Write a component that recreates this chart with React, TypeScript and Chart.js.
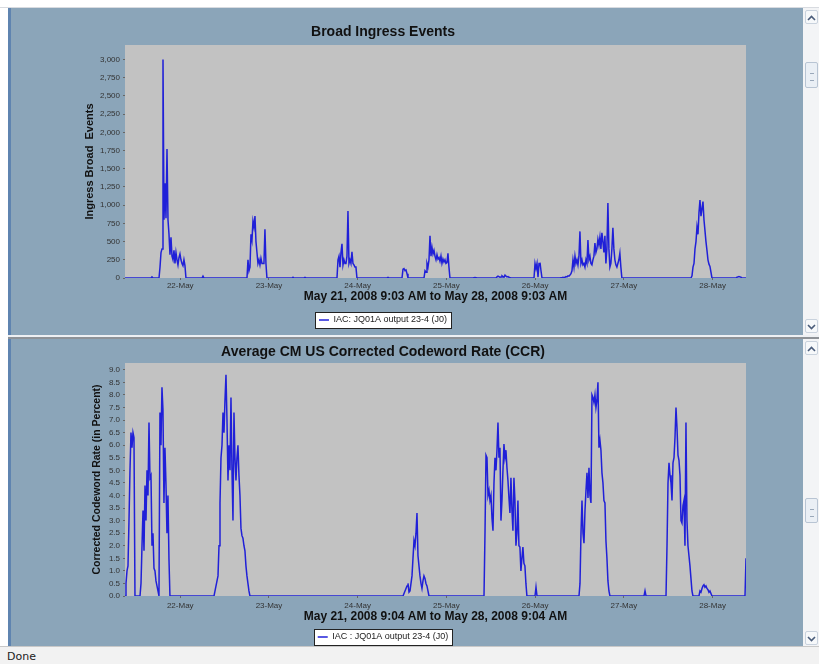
import React, { useEffect, useRef } from 'react';
import { Chart, registerables } from 'chart.js';

Chart.register(...registerables);

// ---------- DATA ----------
const RANGE_HOURS = 168; // May 21 9:03 AM -> May 28 9:03 AM
const SAMPLE_STEP_H = 0.27; // hours between samples (~16 min)

const dayTickHours = [14.95, 38.95, 62.95, 86.95, 110.95, 134.95, 158.95];
const dayTickLabels = ['22-May', '23-May', '24-May', '25-May', '26-May', '27-May', '28-May'];

const ingressYTicks = [0, 250, 500, 750, 1000, 1250, 1500, 1750, 2000, 2250, 2500, 2750, 3000];
const ingressYTickLabels = ['0', '250', '500', '750', '1,000', '1,250', '1,500', '1,750', '2,000', '2,250', '2,500', '2,750', '3,000'];
const ccrYTicks = [0, 0.5, 1, 1.5, 2, 2.5, 3, 3.5, 4, 4.5, 5, 5.5, 6, 6.5, 7, 7.5, 8, 8.5, 9];
const ccrYTickLabels = ['0.0', '0.5', '1.0', '1.5', '2.0', '2.5', '3.0', '3.5', '4.0', '4.5', '5.0', '5.5', '6.0', '6.5', '7.0', '7.5', '8.0', '8.5', '9.0'];

const ingressTitle = 'Broad Ingress Events';
const ingressXTitle = 'May 21, 2008 9:03 AM to May 28, 2008 9:03 AM';
const ingressYTitle = 'Ingress Broad  Events';
const ingressLegend = 'IAC: JQ01A output 23-4 (J0)';

const ccrTitle = 'Average CM US Corrected Codeword Rate (CCR)';
const ccrXTitle = 'May 21, 2008 9:04 AM to May 28, 2008 9:04 AM';
const ccrYTitle = 'Corrected Codeword Rate (in Percent)';
const ccrLegend = 'IAC : JQ01A output 23-4 (J0)';

// Broad ingress events: burst start hours and sample values
const ingressStarts = [7.03, 9.2, 20.83, 33.0, 45.18, 48.42, 57.35, 70.88, 74.94, 80.89, 94.14, 100.37, 110.65, 117.68, 153.12, 165.29];
const ingress01 = [0, 15, 0];
const ingress02 = [0, 150, 350, 400, 3000, 800, 1300, 820, 1770, 800, 600, 320, 560, 300, 250, 380, 200, 350, 250, 180, 280, 330, 250, 200, 170, 250, 170, 0];
const ingress03 = [0, 25, 0];
const ingress04 = [0, 250, 100, 150, 600, 520, 780, 700, 850, 500, 350, 200, 250, 180, 270, 200, 200, 200, 670, 200, 0];
const ingress05 = [0, 10, 0];
const ingress06 = [0, 8, 0];
const ingress07 = [0, 250, 300, 150, 350, 470, 180, 250, 200, 200, 300, 920, 200, 250, 200, 360, 200, 180, 150, 150, 0];
const ingress08 = [0, 8, 0];
const ingress09 = [0, 120, 130, 100, 110, 60, 0];
const ingress10 = [0, 100, 80, 200, 150, 250, 580, 300, 420, 330, 380, 300, 250, 320, 260, 280, 230, 300, 200, 260, 220, 250, 200, 210, 340, 150, 0];
const ingress11 = [0, 5, 8, 5, 0];
const ingress12 = [0, 15, 25, 20, 10, 15, 30, 20, 10, 40, 25, 15, 20, 10, 5, 0];
const ingress13 = [0, 200, 130, 200, 10, 200, 210, 100, 0];
const ingress14 = [0, 5, 5, 10, 5, 10, 20, 15, 30, 25, 40, 60, 100, 250, 150, 300, 200, 250, 180, 300, 640, 200, 250, 180, 200, 150, 250, 200, 520, 250, 300, 200, 180, 250, 300, 480, 350, 400, 530, 450, 560, 400, 620, 500, 350, 580, 200, 400, 1030, 400, 150, 200, 400, 690, 400, 250, 180, 150, 200, 250, 340, 150, 0];
const ingress15 = [0, 30, 150, 200, 400, 500, 700, 600, 900, 1070, 850, 950, 1050, 800, 650, 500, 380, 250, 190, 160, 80, 0];
const ingress16 = [0, 10, 15, 20, 15, 10, 0];
const ingressBursts = [ingress01, ingress02, ingress03, ingress04, ingress05, ingress06, ingress07, ingress08, ingress09, ingress10, ingress11, ingress12, ingress13, ingress14, ingress15, ingress16];

// Corrected codeword rate (%): burst start hours and sample values
const ccrStarts = [0, 4.06, 24.08, 75.21, 97.12, 110.92, 122.82, 140.41, 146.36, 155.28, 167.73];
const ccr01 = [0, 0.5, 1.0, 1.2, 3.0, 5.0, 6.5, 5.9, 6.5, 6.3, 0];
const ccr02 = [0, 0.5, 2.0, 3.4, 1.8, 4.4, 3.0, 5.0, 4.0, 6.9, 4.7, 4.8, 2.0, 2.5, 1.1, 1.0, 0.6, 0.4, 0.2, 0, 7.3, 6.0, 8.3, 7.4, 3.7, 5.9, 4.5, 2.5, 4.0, 1.5, 0];
const ccr03 = [0, 0.2, 0.4, 0.6, 0.8, 2.0, 3.7, 5.5, 6.0, 7.3, 6.5, 7.8, 8.8, 7.0, 4.6, 6.0, 5.0, 7.9, 5.0, 3.0, 7.3, 5.5, 4.6, 5.5, 6.0, 4.8, 4.0, 2.7, 2.4, 2.3, 2.0, 1.8, 1.2, 0.8, 0.5, 0.2, 0];
const ccr04 = [0, 0.1, 0.2, 0.3, 0.4, 0.5, 0.15, 0.2, 0.5, 0.8, 1.5, 2.2, 2.0, 2.5, 3.3, 1.6, 1.2, 0.8, 0.5, 0.3, 0.6, 0.8, 0.7, 0.5, 0.4, 0.2, 0];
const ccr05 = [0, 2.5, 5.6, 5.5, 4.0, 4.2, 3.8, 4.0, 3.1, 2.6, 4.5, 5.5, 5.0, 5.8, 6.9, 5.5, 5.9, 3.0, 3.8, 5.0, 6.05, 5.5, 5.8, 5.1, 4.6, 3.9, 3.3, 4.7, 3.4, 2.6, 4.7, 3.8, 2.0, 2.5, 3.8, 2.0, 1.95, 1.0, 1.5, 1.95, 1.3, 1.2, 0.5, 0];
const ccr06 = [0, 0.35, 0];
const ccr07 = [0, 0.5, 2.5, 3.8, 2.5, 2.1, 3.4, 4.2, 4.9, 3.9, 5.1, 4.0, 3.7, 8.0, 7.9, 7.7, 8.0, 7.5, 7.8, 8.5, 5.9, 6.2, 5.8, 4.9, 4.5, 3.8, 3.7, 2.2, 1.5, 0.6, 0.2, 0];
const ccr08 = [0, 0.2, 0];
const ccr09 = [0, 2.0, 4.5, 5.3, 4.8, 4.5, 3.8, 5.3, 5.5, 6.3, 7.5, 6.7, 5.6, 5.4, 4.8, 3.0, 2.9, 3.6, 3.8, 2.0, 6.9, 3.0, 2.0, 1.6, 1.2, 0.7, 0.2, 0];
const ccr10 = [0, 0.2, 0.15, 0.3, 0.4, 0.45, 0.35, 0.4, 0.3, 0.25, 0.15, 0.2, 0.1, 0];
const ccr11 = [0, 1.5];
const ccrBursts = [ccr01, ccr02, ccr03, ccr04, ccr05, ccr06, ccr07, ccr08, ccr09, ccr10, ccr11];

// ---------- STYLE ----------
const FONT = "'Liberation Sans', Arial, Helvetica, sans-serif";
const PANEL_BG = '#8ba5b9';
const PLOT_BG = '#c2c2c2';
const LINE_COLOR = '#2020d8';

function buildPoints(starts: number[], bursts: number[][]) {
  const pts: { x: number; y: number }[] = [];
  if (starts[0] > 0) pts.push({ x: 0, y: 0 });
  bursts.forEach((vals, i) => {
    vals.forEach((v, j) => pts.push({ x: +(starts[i] + j * SAMPLE_STEP_H).toFixed(3), y: v }));
  });
  const last = pts[pts.length - 1];
  if (last.x < RANGE_HOURS) pts.push({ x: RANGE_HOURS, y: 0 });
  return pts;
}

const plotBgAndLegendBox = {
  id: 'plotBgAndLegendBox',
  beforeDraw(chart: any) {
    const ctx = chart.ctx;
    const { left, top, right, bottom } = chart.chartArea;
    ctx.save();
    ctx.fillStyle = PLOT_BG;
    ctx.fillRect(left, top, right - left, bottom - top);
    const lg = chart.legend;
    if (lg && lg.legendHitBoxes && lg.legendHitBoxes.length) {
      const hb = lg.legendHitBoxes[0];
      const cy = hb.top + hb.height / 2;
      const x0 = Math.round(hb.left - 4) + 0.5;
      const x1 = Math.round(hb.left + hb.width + 4) + 0.5;
      const y0 = Math.round(cy - 8) + 0.5;
      const y1 = Math.round(cy + 8) + 0.5;
      ctx.fillStyle = '#ffffff';
      ctx.fillRect(x0, y0, x1 - x0, y1 - y0);
      ctx.strokeStyle = '#222';
      ctx.lineWidth = 1;
      ctx.strokeRect(x0, y0, x1 - x0, y1 - y0);
    }
    ctx.restore();
  },
};

type Cfg = {
  left: number;
  top: number;
  width: number;
  height: number;
  title: string;
  titlePad: { top: number; bottom: number };
  xTitle: string;
  xTitlePadBottom: number;
  xAxisHeight: number;
  xTickPad: number;
  yTitle: string;
  yTitleSize: number;
  yTitlePadTop: number;
  yMax: number;
  yTicks: number[];
  yTickLabels: string[];
  legend: string;
  padBottom: number;
  points: { x: number; y: number }[];
};

function PanelChart({ cfg }: { cfg: Cfg }) {
  const ref = useRef<HTMLCanvasElement>(null);
  useEffect(() => {
    const chart = new Chart(ref.current as HTMLCanvasElement, {
      type: 'line',
      data: {
        datasets: [
          {
            label: cfg.legend,
            data: cfg.points,
            borderColor: LINE_COLOR,
            backgroundColor: LINE_COLOR,
            borderWidth: 1.5,
            pointRadius: 0,
            tension: 0,
            fill: false,
          },
        ],
      },
      options: {
        animation: false,
        responsive: false,
        maintainAspectRatio: false,
        events: [],
        layout: { padding: { left: 10, right: 57, top: 0, bottom: cfg.padBottom } },
        plugins: {
          title: {
            display: true,
            text: cfg.title,
            color: '#111',
            font: { family: FONT, size: 14, weight: 'bold' },
            padding: cfg.titlePad,
          },
          legend: {
            display: true,
            position: 'bottom',
            labels: {
              color: '#222',
              font: { family: FONT, size: 9 },
              usePointStyle: true,
              pointStyle: 'line',
              pointStyleWidth: 10,
              padding: 4,
            },
          },
          tooltip: { enabled: false },
        },
        scales: {
          x: {
            type: 'linear',
            min: 0,
            max: RANGE_HOURS,
            afterBuildTicks: (scale: any) => {
              scale.ticks = dayTickHours.map((v) => ({ value: v }));
            },
            afterFit: (scale: any) => {
              scale.height = cfg.xAxisHeight;
            },
            ticks: {
              autoSkip: false,
              maxRotation: 0,
              color: '#333',
              font: { family: FONT, size: 8 },
              padding: cfg.xTickPad,
              callback: (_v: any, i: number) => dayTickLabels[i],
            },
            grid: { display: true, drawOnChartArea: false, tickLength: 2, color: '#666' },
            border: { display: false },
            title: {
              display: true,
              text: cfg.xTitle,
              color: '#111',
              font: { family: FONT, size: 12, weight: 'bold' },
              padding: { top: 0, bottom: cfg.xTitlePadBottom },
            },
          },
          y: {
            min: 0,
            max: cfg.yMax,
            afterBuildTicks: (scale: any) => {
              scale.ticks = cfg.yTicks.map((v) => ({ value: v }));
            },
            afterFit: (scale: any) => {
              scale.width = 105;
            },
            ticks: {
              autoSkip: false,
              color: '#333',
              font: { family: FONT, size: 8 },
              padding: 3,
              callback: (_v: any, i: number) => cfg.yTickLabels[i],
            },
            grid: { display: true, drawOnChartArea: false, tickLength: 2, color: '#666' },
            border: { display: false },
            title: {
              display: true,
              text: cfg.yTitle,
              color: '#111',
              font: { family: FONT, size: cfg.yTitleSize, weight: 'bold' },
              padding: { top: cfg.yTitlePadTop, bottom: 0 },
            },
          },
        },
      },
      plugins: [plotBgAndLegendBox],
    } as any);
    return () => chart.destroy();
  }, []);
  return (
    <canvas
      ref={ref}
      width={cfg.width}
      height={cfg.height}
      style={{ position: 'absolute', left: cfg.left, top: cfg.top, width: cfg.width, height: cfg.height }}
    />
  );
}

function Chevron({ up }: { up: boolean }) {
  return (
    <svg width="9" height="6" viewBox="0 0 9 6" style={{ display: 'block', margin: '4px auto 0' }}>
      <polyline
        points={up ? '1,5 4.5,1.5 8,5' : '1,1 4.5,4.5 8,1'}
        fill="none"
        stroke="#4a5c7a"
        strokeWidth="1.6"
      />
    </svg>
  );
}

function Scrollbar({ top, height, thumbTop, thumbHeight }: { top: number; height: number; thumbTop: number; thumbHeight: number }) {
  const btn: React.CSSProperties = {
    position: 'absolute',
    left: 2,
    width: 13,
    height: 14,
    boxSizing: 'border-box',
    border: '1px solid #c9d2dd',
    borderRadius: 2,
    background: '#f6f8fa',
  };
  return (
    <div style={{ position: 'absolute', left: 803, top, width: 16, height, background: '#f3f4f6' }}>
      <div style={{ ...btn, top: 2 }}>
        <Chevron up={true} />
      </div>
      <div
        style={{
          position: 'absolute',
          left: 2,
          top: thumbTop - top,
          width: 13,
          height: thumbHeight,
          boxSizing: 'border-box',
          border: '1px solid #b8c4d3',
          borderRadius: 2,
          background: '#eaeff5',
        }}
      >
        <div style={{ position: 'absolute', left: 4, top: thumbHeight / 2 - 3, width: 4, height: 6, borderTop: '1px solid #9aa8ba', borderBottom: '1px solid #9aa8ba' }} />
      </div>
      <div style={{ ...btn, top: height - 16 }}>
        <Chevron up={false} />
      </div>
    </div>
  );
}

const ingressCfg: Cfg = {
  left: 10,
  top: 10,
  width: 793,
  height: 325,
  title: ingressTitle,
  titlePad: { top: 14, bottom: 4.2 },
  xTitle: ingressXTitle,
  xTitlePadBottom: 7.3,
  xAxisHeight: 33.5,
  xTickPad: 1,
  yTitle: ingressYTitle,
  yTitleSize: 11,
  yTitlePadTop: 63.4,
  yMax: 3200,
  yTicks: ingressYTicks,
  yTickLabels: ingressYTickLabels,
  legend: ingressLegend,
  padBottom: 0.5,
  points: buildPoints(ingressStarts, ingressBursts),
};

const ccrCfg: Cfg = {
  left: 10,
  top: 340,
  width: 793,
  height: 324,
  title: ccrTitle,
  titlePad: { top: 3.6, bottom: 2.6 },
  xTitle: ccrXTitle,
  xTitlePadBottom: 4.3,
  xAxisHeight: 32.5,
  xTickPad: 3,
  yTitle: ccrYTitle,
  yTitleSize: 10.5,
  yTitlePadTop: 70.7,
  yMax: 9.27,
  yTicks: ccrYTicks,
  yTickLabels: ccrYTickLabels,
  legend: ccrLegend,
  padBottom: 12.5,
  points: buildPoints(ccrStarts, ccrBursts),
};

export default function App() {
  return (
    <div
      style={{
        position: 'fixed',
        left: 0,
        top: 0,
        width: 819,
        height: 664,
        background: '#ffffff',
        overflow: 'hidden',
        fontFamily: FONT,
      }}
    >
      <div style={{ position: 'absolute', left: 0, top: 7, width: 819, height: 1, background: '#d8dbe0' }} />
      {/* panels */}
      <div style={{ position: 'absolute', left: 8, top: 8, width: 795, height: 639, background: PANEL_BG }} />
      <div style={{ position: 'absolute', left: 8, top: 8, width: 3, height: 639, background: '#5f84b0' }} />
      {/* separator between panels */}
      <div style={{ position: 'absolute', left: 8, top: 335, width: 811, height: 2, background: '#eef0f3' }} />
      <div style={{ position: 'absolute', left: 8, top: 337, width: 811, height: 2, background: '#8e9297' }} />
      <PanelChart cfg={ingressCfg} />
      <PanelChart cfg={ccrCfg} />
      <Scrollbar top={8} height={327} thumbTop={62} thumbHeight={26} />
      <Scrollbar top={339} height={308} thumbTop={498} thumbHeight={25} />
      {/* status bar */}
      <div
        style={{
          position: 'absolute',
          left: 0,
          top: 646,
          width: 819,
          height: 18,
          background: '#f2f2f2',
          borderTop: '1px solid #c8c8c8',
          boxSizing: 'border-box',
        }}
      >
        <span style={{ position: 'absolute', left: 7, top: 3, fontSize: 11, color: '#222', fontFamily: "'DejaVu Sans', sans-serif" }}>Done</span>
      </div>
    </div>
  );
}
